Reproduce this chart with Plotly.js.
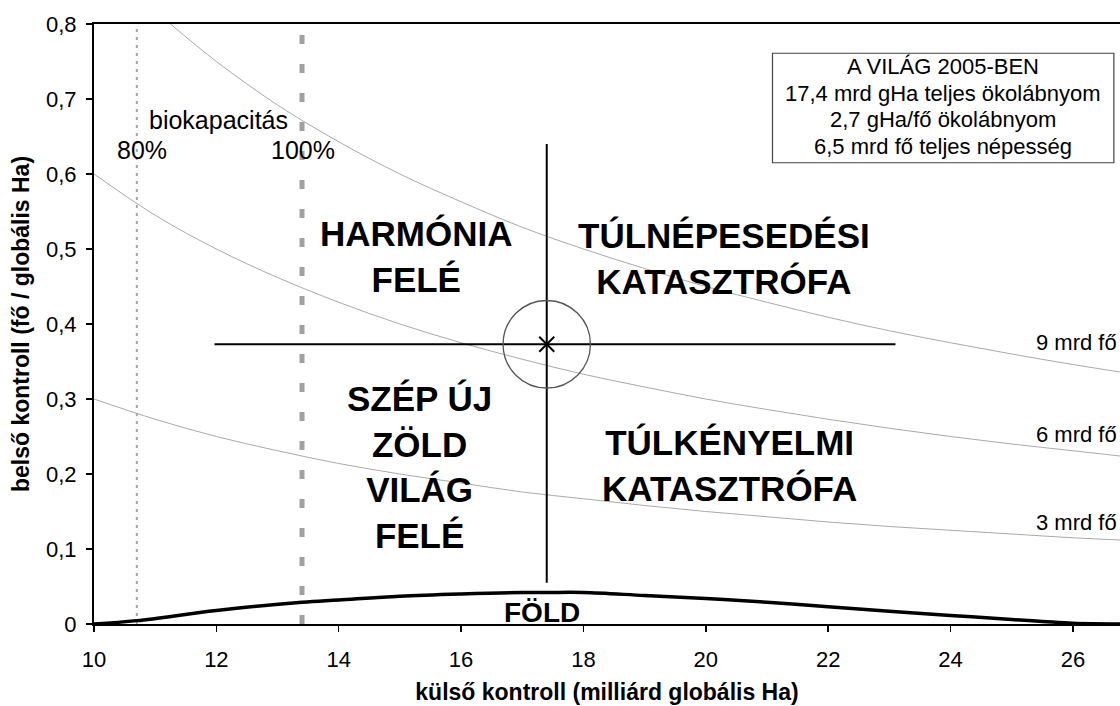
<!DOCTYPE html>
<html>
<head>
<meta charset="utf-8">
<script src="https://cdn.plot.ly/plotly-3.0.1.min.js"></script>
<style>html,body{margin:0;padding:0;background:#fff;}#chart{width:1120px;height:706px;}</style>
</head>
<body>
<div id="chart"></div>
<script>
// ---- data ----
var popX = [10, 11, 12, 13, 14, 15, 16, 17, 18, 19, 20, 21, 22, 23, 24, 25, 26, 26.77];
var pop3 = [0.300, 0.273, 0.250, 0.231, 0.214, 0.200, 0.188, 0.176, 0.167, 0.158, 0.150, 0.143, 0.136, 0.130, 0.125, 0.120, 0.115, 0.112];
var pop6 = [0.600, 0.545, 0.500, 0.462, 0.429, 0.400, 0.375, 0.353, 0.333, 0.316, 0.300, 0.286, 0.273, 0.261, 0.250, 0.240, 0.231, 0.224];
var pop9X = [11.25, 12, 13, 14, 15, 16, 17, 18, 19, 20, 21, 22, 23, 24, 25, 26, 26.77];
var pop9 = [0.800, 0.750, 0.692, 0.643, 0.600, 0.563, 0.529, 0.500, 0.474, 0.450, 0.429, 0.409, 0.391, 0.375, 0.360, 0.346, 0.336];
var popLabels = ['3 mrd fő', '6 mrd fő', '9 mrd fő'];

var earthX = [10, 10.7, 12, 13.4, 14, 15, 16, 17, 17.4, 18, 19, 20, 21, 22, 23, 24, 25, 25.5, 26, 26.77];
var earthY = [0, 0.0045, 0.018, 0.029, 0.032, 0.037, 0.040, 0.042, 0.042, 0.042, 0.038, 0.034, 0.029, 0.023, 0.017, 0.0115, 0.006, 0.0035, 0.001, 0];

var bio80 = 10.7;     // 80 % biokapacitás
var bio100 = 13.4;    // 100 % biokapacitás
var worldX = 17.4;    // teljes ökolábnyom 2005
var worldY = 0.373;   // fő / globális Ha
var crossH = [11.97, 23.1];
var crossV = [0.055, 0.64];

var xTicks = [10, 12, 14, 16, 18, 20, 22, 24, 26];
var yTicks = [0, 0.1, 0.2, 0.3, 0.4, 0.5, 0.6, 0.7, 0.8];
var yTickText = ['0', '0,1', '0,2', '0,3', '0,4', '0,5', '0,6', '0,7', '0,8'];

var boxLines = ['A VILÁG 2005-BEN', '17,4 mrd gHa teljes ökolábnyom', '2,7 gHa/fő ökolábnyom', '6,5 mrd fő teljes népesség'];

var FONT = 'Liberation Sans, Arial, sans-serif';
var grayCurve = '#aaaaaa';

var traces = [
  {x: popX, y: pop3, mode: 'lines', line: {color: grayCurve, width: 1, shape: 'spline'}, hoverinfo: 'skip', name: popLabels[0]},
  {x: popX, y: pop6, mode: 'lines', line: {color: grayCurve, width: 1, shape: 'spline'}, hoverinfo: 'skip', name: popLabels[1]},
  {x: pop9X, y: pop9, mode: 'lines', line: {color: grayCurve, width: 1, shape: 'spline'}, hoverinfo: 'skip', name: popLabels[2]},
  {x: [bio80, bio80], y: [0, 0.8], mode: 'lines', line: {color: '#a6a6a6', width: 2, dash: '3px,5px'}, hoverinfo: 'skip'},
  {x: [bio100, bio100], y: [0, 0.79], mode: 'lines', line: {color: '#a0a0a0', width: 5, dash: '9px,20px'}, hoverinfo: 'skip'},
  {x: earthX, y: earthY, mode: 'lines', line: {color: '#000', width: 3.5, shape: 'spline'}, hoverinfo: 'skip', name: 'FÖLD'},
  {x: crossH, y: [worldY, worldY], mode: 'lines', line: {color: '#000', width: 2}, hoverinfo: 'skip'},
  {x: [worldX, worldX], y: crossV, mode: 'lines', line: {color: '#000', width: 2}, hoverinfo: 'skip'},
  {x: [worldX], y: [worldY], mode: 'markers', marker: {symbol: 'x-thin', size: 15, line: {color: '#000', width: 2}}, hoverinfo: 'skip'}
];

var ann = [];
function txt(x, y, t, size, bold, extra) {
  var a = {x: x, y: y, xref: 'x', yref: 'y', text: bold ? '<b>' + t + '</b>' : t, showarrow: false,
    font: {family: FONT, size: size, color: '#000'}, xanchor: 'center', yanchor: 'middle'};
  if (extra) for (var k in extra) a[k] = extra[k];
  ann.push(a);
}
txt(15.26, 0.490, 'HARMÓNIA<br>FELÉ', 35, true);
txt(20.30, 0.487, 'TÚLNÉPESEDÉSI<br>KATASZTRÓFA', 35, true);
txt(15.32, 0.210, 'SZÉP ÚJ<br>ZÖLD<br>VILÁG<br>FELÉ', 35, true);
txt(20.38, 0.212, 'TÚLKÉNYELMI<br>KATASZTRÓFA', 35, true);
txt(17.33, 0.016, 'FÖLD', 28, true);
txt(12.04, 0.672, 'biokapacitás', 25, false);
txt(10.78, 0.632, '80%', 25, false);
txt(13.41, 0.632, '100%', 25, false);
txt(25.37, 0.376, popLabels[2], 22, false, {xanchor: 'left'});
txt(25.37, 0.253, popLabels[1], 22, false, {xanchor: 'left'});
txt(25.37, 0.136, popLabels[0], 22, false, {xanchor: 'left'});
var boxY = [0.743, 0.708, 0.673, 0.637];
for (var i = 0; i < boxLines.length; i++) txt(23.88, boxY[i], boxLines[i], 22, false);

var layout = {
  width: 1120, height: 706,
  margin: {l: 94, r: 0, t: 24, b: 82},
  paper_bgcolor: '#fff', plot_bgcolor: '#fff',
  showlegend: false,
  font: {family: FONT, size: 22, color: '#000'},
  xaxis: {
    range: [10, 26.77], tickvals: xTicks, ticktext: xTicks.map(String),
    showline: true, linecolor: '#000', linewidth: 2, mirror: true,
    ticks: 'outside', ticklen: 6, tickwidth: 1.5, tickcolor: '#000',
    ticklabelstandoff: 9,
    showgrid: false, zeroline: false,
    tickfont: {family: FONT, size: 22, color: '#000'},
    title: {text: '<b>külső kontroll (milliárd globális Ha)</b>', font: {family: FONT, size: 23, color: '#000'}, standoff: 12}
  },
  yaxis: {
    range: [0, 0.8], tickvals: yTicks, ticktext: yTickText,
    showline: true, linecolor: '#000', linewidth: 2,
    ticks: 'outside', ticklen: 6, tickwidth: 1.5, tickcolor: '#000',
    ticklabelstandoff: 5,
    showgrid: false, zeroline: false,
    tickfont: {family: FONT, size: 22, color: '#000'},
    title: {text: '<b>belső kontroll (fő / globális Ha)</b>', font: {family: FONT, size: 23, color: '#000'}, standoff: 10}
  },
  shapes: [
    {type: 'rect', xref: 'x', yref: 'y', x0: 21.09, x1: 26.67, y0: 0.615, y1: 0.761, line: {color: '#444', width: 1.2}, fillcolor: 'rgba(0,0,0,0)'},
    {type: 'circle', xref: 'x', yref: 'y', x0: worldX - 0.714, x1: worldX + 0.714, y0: worldY - 0.0583, y1: worldY + 0.0583, line: {color: '#555', width: 1.3}}
  ],
  annotations: ann
};

Plotly.newPlot('chart', traces, layout, {staticPlot: true, displayModeBar: false});
</script>
</body>
</html>
